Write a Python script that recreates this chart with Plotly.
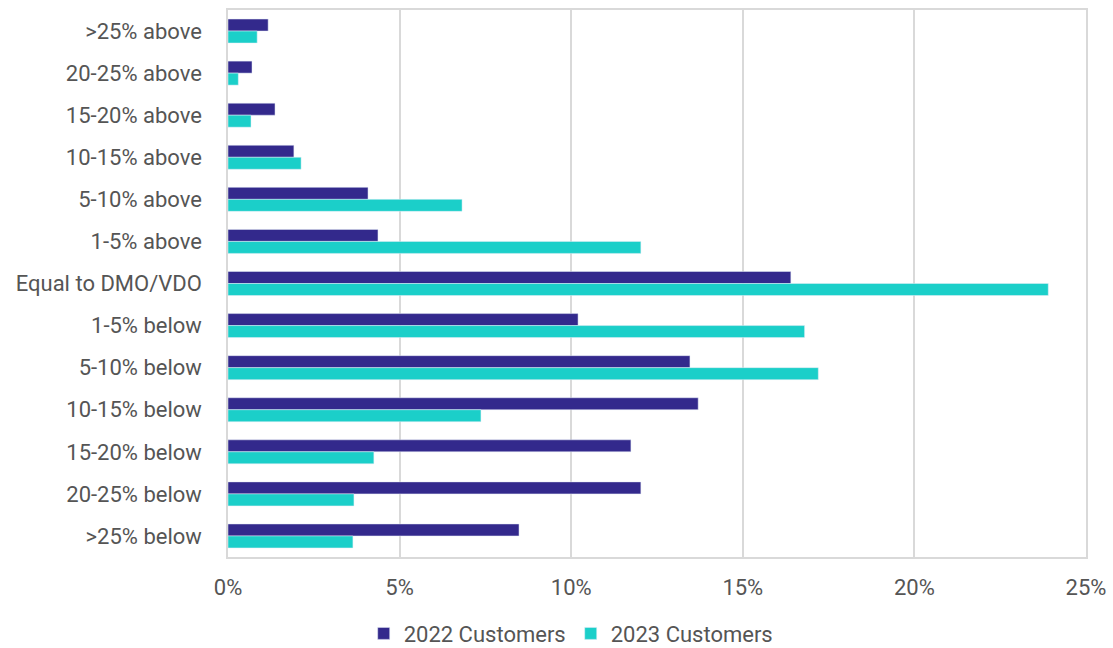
import plotly.graph_objects as go

categories = [">25% above", "20-25% above", "15-20% above", "10-15% above", "5-10% above",
              "1-5% above", "Equal to DMO/VDO", "1-5% below", "5-10% below", "10-15% below",
              "15-20% below", "20-25% below", ">25% below"]
customers_2022 = [1.17, 0.70, 1.37, 1.92, 4.08, 4.37, 16.4, 10.2, 13.46, 13.7, 11.74, 12.03, 8.48]
customers_2023 = [0.85, 0.30, 0.67, 2.13, 6.82, 12.03, 23.9, 16.8, 17.2, 7.37, 4.25, 3.67, 3.64]
x_ticks = [0, 5, 10, 15, 20, 25]
x_tick_labels = ["0%", "5%", "10%", "15%", "20%", "25%"]

fig = go.Figure()
fig.add_trace(go.Bar(y=categories, x=customers_2022, orientation="h", name="2022 Customers",
                     marker=dict(color="#33298C")))
fig.add_trace(go.Bar(y=categories, x=customers_2023, orientation="h", name="2023 Customers",
                     marker=dict(color="#1BCFC9")))

fig.update_layout(
    width=1113, height=648,
    margin=dict(l=228, r=27, t=10, b=91, autoexpand=False),
    plot_bgcolor="white", paper_bgcolor="white",
    barmode="group", bargap=0.43, bargroupgap=0,
    font=dict(family="Roboto", size=22, color="#555555"),
    legend=dict(orientation="h", x=0.4, xanchor="center", y=-0.14, yanchor="middle",
                font=dict(size=22, color="#555555"), traceorder="normal",
                itemwidth=30),
    xaxis=dict(range=[0, 25], tickvals=x_ticks, ticktext=x_tick_labels,
               showgrid=True, gridcolor="#D9D9D9", gridwidth=1.5,
               showline=True, linecolor="#D9D9D9", linewidth=1.5, mirror=True,
               zeroline=False, ticks="", ticklabelstandoff=10),
    yaxis=dict(autorange="reversed", showgrid=False,
               showline=True, linecolor="#D9D9D9", linewidth=1.5, mirror=True,
               ticks="", ticklabelstandoff=20),
)

fig.write_html("out.html")
